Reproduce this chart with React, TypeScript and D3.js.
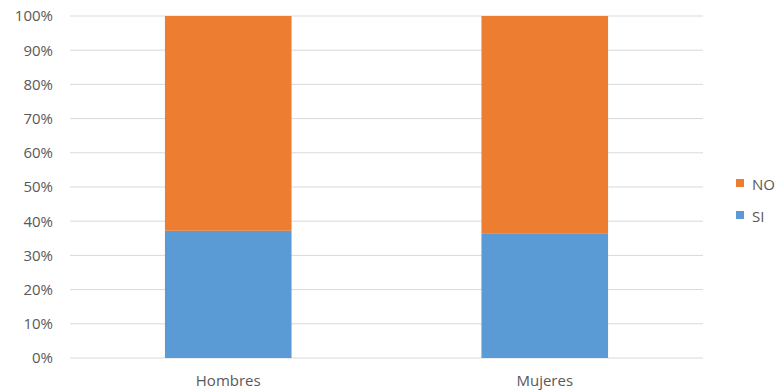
import React from "react";
import * as d3 from "d3";

const categories = ["Hombres", "Mujeres"];
const siValues = [37.2, 36.3];
const noValues = [62.8, 63.7];
const yTicks = [0, 10, 20, 30, 40, 50, 60, 70, 80, 90, 100];
const seriesNames = ["NO", "SI"];

export default function App() {
  const W = 778, H = 390;
  const left = 70, right = 703, top = 16, bottom = 358;
  const x = d3.scaleBand<string>().domain(categories).range([left, right]).paddingInner(0.6).paddingOuter(0.3);
  const y = d3.scaleLinear().domain([0, 100]).range([bottom, top]);
  const colors: Record<string, string> = { NO: "#ED7D31", SI: "#5B9BD5" };
  const font = "'Open Sans', 'Liberation Sans', sans-serif";
  const textColor = "#595959";
  return (
    <svg width={W} height={H} style={{ position: "absolute", left: 0, top: 0, background: "#fff" }}>
      {yTicks.map((t) => (
        <g key={t}>
          <line x1={left} x2={right} y1={y(t)} y2={y(t)} stroke="#D9D9D9" strokeWidth={1} />
          <text x={53} y={y(t)} dy="0.36em" textAnchor="end" fontSize={15} fill={textColor} fontFamily={font}>
            {t}%
          </text>
        </g>
      ))}
      {categories.map((c, i) => (
        <g key={c}>
          <rect x={x(c)} width={x.bandwidth()} y={y(siValues[i])} height={y(0) - y(siValues[i])} fill={colors.SI} />
          <rect x={x(c)} width={x.bandwidth()} y={y(siValues[i] + noValues[i])} height={y(siValues[i]) - y(siValues[i] + noValues[i])} fill={colors.NO} />
          <text x={(x(c) as number) + x.bandwidth() / 2} y={386} textAnchor="middle" fontSize={15} fill={textColor} fontFamily={font}>
            {c}
          </text>
        </g>
      ))}
      {seriesNames.map((s, i) => (
        <g key={s} transform={`translate(736, ${179 + i * 32})`}>
          <rect x={0} y={0} width={8} height={8} fill={colors[s]} />
          <text x={16} y={11} fontSize={15} fill={textColor} fontFamily={font}>
            {s}
          </text>
        </g>
      ))}
    </svg>
  );
}
